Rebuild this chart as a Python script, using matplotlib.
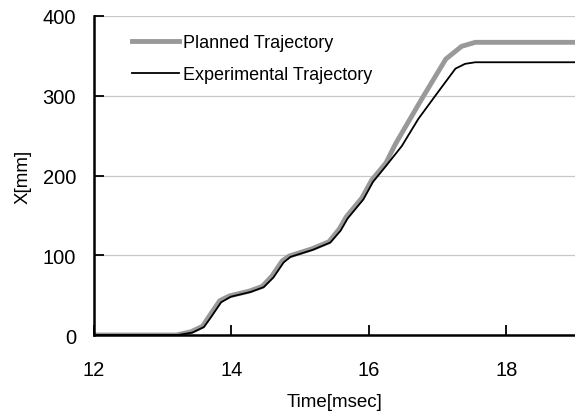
import matplotlib
matplotlib.use("Agg")
from matplotlib import pyplot as plt

plt.rcParams['font.family'] = ['Liberation Sans', 'DejaVu Sans']

# Planned trajectory
t_plan = [12.0, 13.2, 13.41, 13.58, 13.68, 13.83, 13.97, 14.26, 14.45, 14.59, 14.74, 14.84,
          15.17, 15.42, 15.57, 15.67, 15.9, 16.04, 16.25, 16.39, 16.77, 17.12, 17.35, 17.55, 19.0]
x_plan = [0, 0, 4, 11, 24, 43, 49, 55, 61, 74, 93, 99,
          108, 117, 133, 148, 172, 194, 216, 240, 296, 346, 362, 367, 367]

# Experimental trajectory
t_exp = [12.0, 13.22, 13.43, 13.6, 13.7, 13.85, 13.99, 14.28, 14.47, 14.61, 14.76, 14.86,
         15.19, 15.44, 15.59, 15.69, 15.92, 16.06, 16.25, 16.48, 16.72, 17.01, 17.26, 17.4, 17.55, 19.0]
x_exp = [0, 0, 3, 10, 22, 41, 48, 54, 60, 72, 91, 98,
         107, 116, 131, 146, 170, 192, 212, 237, 271, 305, 334, 340, 342, 342]

fig = plt.figure(figsize=(5.75, 4.14), dpi=100)
ax = fig.add_axes([94 / 575, 1 - 336 / 414, 1 - 94 / 575, 319 / 414])

ax.plot(t_plan, x_plan, color='#999999', linewidth=3.5, label='Planned Trajectory')
ax.plot(t_exp, x_exp, color='black', linewidth=1.3, label='Experimental Trajectory')

ax.set_xlim(12, 19)
ax.set_ylim(0, 400)
ax.set_xticks([12, 14, 16, 18])
ax.set_yticks([0, 100, 200, 300, 400])
ax.grid(axis='y', color='#c8c8c8', linewidth=0.9)
ax.set_axisbelow(True)

for s in ['top', 'right']:
    ax.spines[s].set_visible(False)
for s in ['left', 'bottom']:
    ax.spines[s].set_linewidth(1.8)

ax.tick_params(axis='x', direction='in', length=7, width=1.3, labelsize=14.5, pad=18)
ax.tick_params(axis='y', direction='in', length=7, width=1.3, labelsize=14.5, pad=13)

ax.set_xlabel('Time[msec]', fontsize=13.5, labelpad=10)
ax.set_ylabel('X[mm]', fontsize=13.5, labelpad=8)

ax.legend(loc='upper left', frameon=False, fontsize=13, handlelength=2.6,
          handletextpad=0.2, labelspacing=0.8, borderaxespad=0.0,
          bbox_to_anchor=(0.065, 0.965))

fig.savefig('out.png', dpi=100)
